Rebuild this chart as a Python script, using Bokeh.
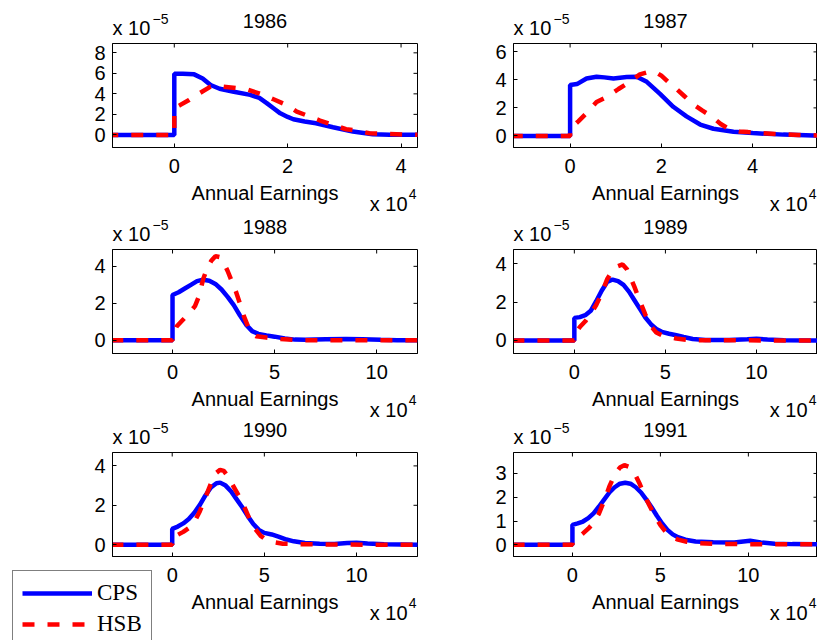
import math
from bokeh.plotting import figure
from bokeh.models import Range1d, FixedTicker, Legend, LegendItem, GridBox
from bokeh.layouts import column, row
from bokeh.core.properties import value
from bokeh.embed import file_html
from bokeh.resources import INLINE

# ---------------- data (x in 10^4 dollars, density in 10^-5) ----------------
years = ["1986", "1987", "1988", "1989", "1990", "1991"]

cps_x_1986 = [-1.2, 0, 0, 0.15, 0.35, 0.5, 0.64, 0.8, 1.05, 1.34, 1.5, 1.63, 1.75, 1.87, 2.0, 2.1, 2.3, 2.5, 2.8, 3.15, 3.5, 3.8, 4.4]
cps_y_1986 = [0, 0, 5.95, 5.95, 5.9, 5.5, 4.86, 4.5, 4.2, 3.9, 3.6, 3.1, 2.6, 2.1, 1.75, 1.52, 1.3, 1.13, 0.75, 0.32, 0.06, 0.02, 0.0]
hsb_x_1986 = [-1.2, 0, 0, 0.1, 0.26, 0.44, 0.64, 0.87, 1.1, 1.3, 1.57, 1.75, 1.98, 2.16, 2.36, 2.57, 2.8, 3.03, 3.24, 3.44, 3.8, 4.1, 4.4]
hsb_y_1986 = [0, 0, 2.6, 2.9, 3.4, 4.05, 4.7, 4.7, 4.55, 4.4, 3.9, 3.47, 2.92, 2.27, 1.85, 1.4, 0.97, 0.55, 0.4, 0.16, 0.08, 0.03, 0.0]

cps_x_1987 = [-1.3, 0, 0, 0.15, 0.36, 0.58, 0.75, 0.95, 1.24, 1.46, 1.68, 1.97, 2.26, 2.55, 2.85, 3.14, 3.58, 4.0, 4.67, 5.33, 5.5]
cps_y_1987 = [0, 0, 3.63, 3.7, 4.1, 4.23, 4.18, 4.1, 4.2, 4.23, 3.86, 3.0, 2.08, 1.39, 0.81, 0.51, 0.3, 0.2, 0.09, 0.03, 0.02]
hsb_x_1987 = [-1.3, 0, 0, 0.18, 0.38, 0.58, 0.8, 1.06, 1.28, 1.53, 1.7, 1.85, 2.0, 2.15, 2.3, 2.5, 2.7, 2.9, 3.1, 3.3, 3.5, 3.7, 3.9, 4.2, 4.6, 5.0, 5.5]
hsb_y_1987 = [0, 0, 0.5, 1.04, 1.69, 2.42, 2.77, 3.35, 3.81, 4.39, 4.55, 4.6, 4.3, 3.85, 3.45, 2.85, 2.25, 1.8, 1.39, 0.85, 0.45, 0.32, 0.27, 0.2, 0.12, 0.06, 0.03]

cps_x_1988 = [-3.0, 0, 0, 0.3, 0.6, 0.9, 1.2, 1.5, 1.8, 2.1, 2.4, 2.7, 3.0, 3.3, 3.6, 3.9, 4.2, 4.6, 5.0, 5.5, 6.0, 6.5, 7.5, 8.5, 9.3, 10.2, 11.0, 12.0]
cps_y_1988 = [0, 0, 2.45, 2.6, 2.8, 3.0, 3.2, 3.28, 3.22, 3.05, 2.75, 2.35, 1.9, 1.35, 0.85, 0.5, 0.35, 0.27, 0.2, 0.1, 0.04, 0.03, 0.06, 0.07, 0.06, 0.03, 0.01, 0.0]
hsb_x_1988 = [-3.0, 0, 0, 0.2, 0.5, 0.8, 1.1, 1.3, 1.5, 1.7, 1.9, 2.1, 2.3, 2.5, 2.7, 2.9, 3.1, 3.3, 3.5, 3.7, 3.9, 4.1, 4.6, 5.3, 6.0, 7.0, 12.0]
hsb_y_1988 = [0, 0, 0.2, 0.75, 1.1, 1.45, 1.85, 2.4, 3.3, 3.9, 4.3, 4.55, 4.5, 4.2, 3.75, 3.2, 2.65, 2.0, 1.3, 0.75, 0.35, 0.22, 0.15, 0.07, 0.02, 0.0, 0.0]

cps_x_1989 = [-3.4, 0, 0, 0.3, 0.6, 0.9, 1.2, 1.5, 1.8, 2.1, 2.4, 2.7, 3.0, 3.3, 3.6, 3.9, 4.2, 4.5, 4.8, 5.2, 5.6, 6.0, 6.5, 7.2, 8.5, 9.5, 10.0, 10.6, 11.5, 13.5]
cps_y_1989 = [0, 0, 1.18, 1.22, 1.32, 1.55, 2.05, 2.6, 3.05, 3.18, 3.1, 2.9, 2.55, 2.1, 1.65, 1.2, 0.85, 0.6, 0.45, 0.35, 0.27, 0.18, 0.08, 0.03, 0.02, 0.06, 0.09, 0.05, 0.01, 0.0]
hsb_x_1989 = [-3.4, 0, 0, 0.3, 0.6, 0.9, 1.2, 1.5, 1.8, 2.1, 2.4, 2.65, 2.9, 3.1, 3.3, 3.6, 3.9, 4.2, 4.5, 4.8, 5.2, 5.6, 6.2, 7.0, 13.5]
hsb_y_1989 = [0, 0, 0.3, 0.7, 1.0, 1.4, 1.85, 2.45, 3.2, 3.65, 3.88, 3.97, 3.7, 3.25, 2.8, 2.05, 1.35, 0.75, 0.42, 0.28, 0.18, 0.1, 0.03, 0.01, 0.0]

cps_x_1990 = [-3.3, 0, 0, 0.3, 0.6, 0.9, 1.2, 1.5, 1.8, 2.1, 2.4, 2.6, 2.9, 3.2, 3.5, 3.8, 4.1, 4.4, 4.7, 5.0, 5.4, 5.8, 6.2, 6.6, 7.2, 8.0, 8.8, 9.5, 10.0, 10.6, 11.5, 13.4]
cps_y_1990 = [0, 0, 0.8, 0.92, 1.08, 1.3, 1.62, 2.02, 2.5, 2.9, 3.12, 3.15, 3.0, 2.7, 2.3, 1.9, 1.45, 1.05, 0.75, 0.6, 0.52, 0.4, 0.26, 0.17, 0.09, 0.05, 0.04, 0.08, 0.1, 0.06, 0.02, 0.0]
hsb_x_1990 = [-3.3, 0, 0, 0.3, 0.6, 0.9, 1.2, 1.5, 1.8, 2.1, 2.4, 2.6, 2.8, 3.0, 3.3, 3.6, 3.9, 4.2, 4.5, 4.8, 5.1, 5.5, 6.0, 7.0, 8.5, 10.5, 13.4]
hsb_y_1990 = [0, 0, 0.4, 0.5, 0.65, 0.85, 1.15, 1.7, 2.4, 3.1, 3.65, 3.8, 3.75, 3.5, 3.0, 2.5, 1.95, 1.3, 0.8, 0.45, 0.25, 0.13, 0.05, 0.02, 0.01, 0.0, 0.0]

cps_x_1991 = [-3.4, 0, 0, 0.3, 0.6, 0.9, 1.2, 1.5, 1.8, 2.1, 2.4, 2.7, 3.0, 3.3, 3.6, 3.9, 4.2, 4.5, 4.8, 5.1, 5.4, 5.7, 6.0, 6.5, 7.0, 8.0, 9.2, 10.1, 10.7, 11.5, 12.5, 14.1]
cps_y_1991 = [0, 0, 0.84, 0.9, 0.98, 1.12, 1.32, 1.6, 1.9, 2.2, 2.42, 2.57, 2.61, 2.57, 2.42, 2.2, 1.9, 1.58, 1.22, 0.9, 0.63, 0.44, 0.32, 0.2, 0.14, 0.11, 0.1, 0.17, 0.1, 0.05, 0.03, 0.02]
hsb_x_1991 = [-3.4, 0, 0, 0.3, 0.6, 0.9, 1.2, 1.5, 1.8, 2.1, 2.4, 2.7, 2.95, 3.2, 3.5, 3.8, 4.1, 4.4, 4.7, 5.0, 5.3, 5.6, 6.0, 6.5, 7.0, 8.0, 9.0, 10.0, 14.1]
hsb_y_1991 = [0, 0, 0.1, 0.3, 0.48, 0.68, 0.92, 1.3, 1.85, 2.45, 2.95, 3.25, 3.35, 3.28, 3.05, 2.6, 2.07, 1.62, 1.2, 0.83, 0.55, 0.35, 0.22, 0.13, 0.08, 0.04, 0.03, 0.03, 0.02]

cps_x = [cps_x_1986, cps_x_1987, cps_x_1988, cps_x_1989, cps_x_1990, cps_x_1991]
cps_y = [cps_y_1986, cps_y_1987, cps_y_1988, cps_y_1989, cps_y_1990, cps_y_1991]
hsb_x = [hsb_x_1986, hsb_x_1987, hsb_x_1988, hsb_x_1989, hsb_x_1990, hsb_x_1991]
hsb_y = [hsb_y_1986, hsb_y_1987, hsb_y_1988, hsb_y_1989, hsb_y_1990, hsb_y_1991]

x_limits = [(-1.09, 4.29), (-1.24, 5.42), (-2.94, 12.0), (-3.34, 13.35), (-3.24, 13.31), (-3.35, 13.93)]
y_limits = [(-1.23, 8.91), (-0.83, 6.6), (-0.71, 4.91), (-0.68, 4.75), (-0.6, 4.68), (-0.49, 3.88)]
x_ticks = [[0, 2, 4], [0, 2, 4], [0, 5, 10], [0, 5, 10], [0, 5, 10], [0, 5, 10]]
y_ticks = [[0, 2, 4, 6, 8], [0, 2, 4, 6], [0, 2, 4], [0, 2, 4], [0, 2, 4], [0, 1, 2, 3]]

x_label = "Annual Earnings"
x_mult_text, x_mult_exp = "x 10", "4"
y_mult_text, y_mult_exp = "x 10", "\u22125"
series_names = ["CPS", "HSB"]

# ---------------- layout constants (page pixels) ----------------
FONT = "Liberation Sans"
FS = "20px"
EXP_FS = "14px"
BLUE = "#0000ff"
RED = "#ff0000"
TOTAL_W, TOTAL_H = 817, 640
COLS = [dict(w=458, bl=112, br=41), dict(w=359, bl=55, br=0)]
ROWS = [dict(h=212, bt=43), dict(h=204, bt=37), dict(h=224, bt=36)]
FRAME_H = 104


def make_panel(i):
    r, c = divmod(i, 2)
    col, rw = COLS[c], ROWS[r]
    x0, x1 = x_limits[i]
    y0, y1 = y_limits[i]
    p = figure(width=col["w"], height=rw["h"], title=None,
               x_range=Range1d(x0, x1), y_range=Range1d(y0, y1),
               output_backend="svg", toolbar_location=None,
               min_border_left=col["bl"], min_border_right=col["br"],
               min_border_top=rw["bt"], min_border_bottom=rw["h"] - rw["bt"] - FRAME_H,
               background_fill_color="white", border_fill_color="white",
               outline_line_color="black", outline_line_width=1)
    p.xgrid.visible = False
    p.ygrid.visible = False
    for ax in (p.xaxis[0], p.yaxis[0]):
        ax.major_tick_in = 4
        ax.major_tick_out = 0
        ax.minor_tick_line_color = None
        ax.major_tick_line_color = "black"
        ax.axis_line_color = "black"
        ax.major_label_text_font = FONT
        ax.major_label_text_font_size = FS
        ax.major_label_text_color = "black"
    p.xaxis.ticker = FixedTicker(ticks=x_ticks[i])
    p.yaxis.ticker = FixedTicker(ticks=y_ticks[i])
    p.xaxis.major_label_standoff = 11
    p.yaxis.major_label_standoff = 7
    p.xaxis.axis_label = x_label
    p.xaxis.axis_label_text_font = FONT
    p.xaxis.axis_label_text_font_size = FS
    p.xaxis.axis_label_text_font_style = "normal"
    p.xaxis.axis_label_text_color = "black"
    p.xaxis.axis_label_standoff = 6

    # inward ticks on the top and right edges of the box
    xt, yt = x_ticks[i], y_ticks[i]
    p.ray(x=xt, y=[y1] * len(xt), length=4, length_units="screen",
          angle=-math.pi / 2, line_color="black", line_width=1)
    p.ray(x=[x1] * len(yt), y=yt, length=4, length_units="screen",
          angle=math.pi, line_color="black", line_width=1)

    p.line(cps_x[i], cps_y[i], line_color=BLUE, line_width=4.5)
    p.line(hsb_x[i], hsb_y[i], line_color=RED, line_width=4.5, line_dash="12 13")
    return p


panels = [make_panel(i) for i in range(6)]
main = column(row(panels[0], panels[1]), row(panels[2], panels[3]), row(panels[4], panels[5]))

# ---------------- overlay for titles, multipliers and legend ----------------
ov = figure(width=TOTAL_W, height=TOTAL_H, x_range=Range1d(0, TOTAL_W), y_range=Range1d(TOTAL_H, 0),
            x_axis_type=None, y_axis_type=None, title=None, toolbar_location=None,
            output_backend="svg", min_border=0,
            background_fill_alpha=0, border_fill_alpha=0, outline_line_color=None)
ov.grid.visible = False

fl, fr, ft, fb = [], [], [], []
x_off = 0
for c in COLS:
    fl.append(x_off + c["bl"])
    fr.append(x_off + c["w"] - c["br"])
    x_off += c["w"]
y_off = 0
for rw in ROWS:
    ft.append(y_off + rw["bt"])
    fb.append(y_off + rw["bt"] + FRAME_H)
    y_off += rw["h"]

# y values below are the vertical centres of the glyphs
title_x, title_y, yl_x, yl_y, ye_x, ye_y, xl_x, xl_y, xe_x, xe_y = ([] for _ in range(10))
for i in range(6):
    r, c = divmod(i, 2)
    title_x.append((fl[c] + fr[c]) / 2); title_y.append(ft[r] - 23)
    yl_x.append(fl[c]); yl_y.append(ft[r] - 16)
    ye_x.append(fl[c] + 40); ye_y.append(ft[r] - 25)
    xl_x.append(fr[c] - 10); xl_y.append(fb[r] + 56)
    xe_x.append(fr[c] - 1); xe_y.append(fb[r] + 46)

common = dict(text_font=value(FONT), text_color="black", text_baseline="alphabetic")
ov.text(x=title_x, y=title_y, text=years, text_align="center", text_font_size=value(FS), **common)
ov.text(x=yl_x, y=yl_y, text=[y_mult_text] * 6, text_align="left", text_font_size=value(FS), **common)
ov.text(x=ye_x, y=ye_y, text=[y_mult_exp] * 6, text_align="left", text_font_size=value(EXP_FS), **common)
ov.text(x=xl_x, y=xl_y, text=[x_mult_text] * 6, text_align="right", text_font_size=value(FS), **common)
ov.text(x=xe_x, y=xe_y, text=[x_mult_exp] * 6, text_align="right", text_font_size=value(EXP_FS), **common)

# legend swatches: renderers with a single undefined point (nothing is drawn in the plot)
nan = float("nan")
lc = ov.line([nan], [nan], line_color=BLUE, line_width=4.5)
lh = ov.line([nan], [nan], line_color=RED, line_width=4.5, line_dash="12 13")
legend = Legend(items=[LegendItem(label=series_names[0], renderers=[lc]),
                       LegendItem(label=series_names[1], renderers=[lh])],
                location=(12, -7), margin=0,
                label_text_font="Liberation Serif", label_text_font_size="23px",
                label_text_color="black",
                glyph_width=70, glyph_height=24, label_height=24,
                label_standoff=5, spacing=5, padding=9,
                border_line_color="black", border_line_width=1,
                background_fill_color="white", background_fill_alpha=1.0)
ov.add_layout(legend, "center")

grid = GridBox(children=[(main, 0, 0), (ov, 0, 0)])

open("out.html", "w").write(file_html(grid, INLINE))
